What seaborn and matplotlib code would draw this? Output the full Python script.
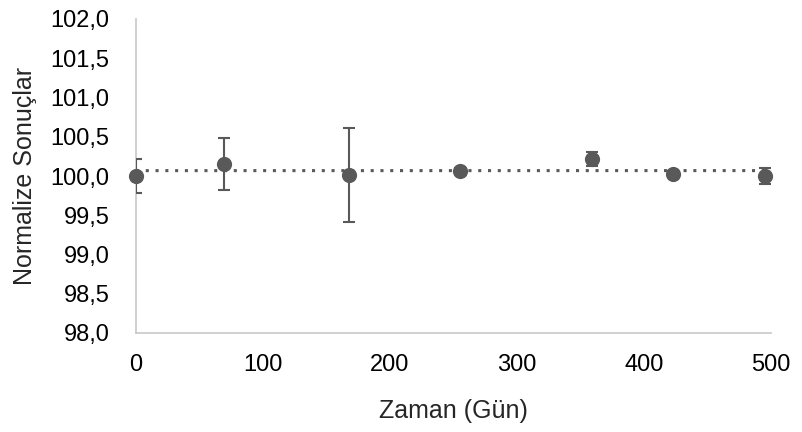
import numpy as np
import matplotlib
matplotlib.use("Agg")
import matplotlib.pyplot as plt
import seaborn as sns

# Data
days = [0, 69, 168, 255, 359, 423, 495]
values = [100.00, 100.15, 100.01, 100.07, 100.22, 100.03, 100.00]
errors = [0.22, 0.33, 0.60, 0.03, 0.09, 0.03, 0.10]
y_ticks = [98.0, 98.5, 99.0, 99.5, 100.0, 100.5, 101.0, 101.5, 102.0]
x_ticks = [0, 100, 200, 300, 400, 500]

sns.set_style("white")
plt.rcParams["font.family"] = ["Liberation Sans", "DejaVu Sans"]

grey = "#595959"
axis_grey = "#c8c8c8"

fig = plt.figure(figsize=(8.03, 4.32), dpi=100)
ax = fig.add_axes([136 / 803, 1 - 333 / 432, 635 / 803, 314 / 432])
ax.set_xlim(0, 500)
ax.set_ylim(98.0, 102.0)

# linear trend line (dotted), spanning the full x range
sns.regplot(x=days, y=values, ax=ax, scatter=False, ci=None, truncate=False,
            line_kws=dict(color=grey, linestyle=(0, (1, 2.2)), linewidth=2.2))

# error bars
ax.errorbar(days, values, yerr=errors, fmt="none", ecolor=grey,
            elinewidth=1.5, capsize=4.5, capthick=1.5, zorder=3)

# points
sns.scatterplot(x=days, y=values, ax=ax, color=grey, s=120, edgecolor=grey,
                linewidth=0, zorder=4, clip_on=False)

ax.set_xlim(0, 500)
ax.set_ylim(98.0, 102.0)
ax.set_xticks(x_ticks)
ax.set_yticks(y_ticks)
ax.set_yticklabels([f"{v:.1f}".replace(".", ",") for v in y_ticks])
ax.tick_params(axis="both", length=0, labelsize=17, colors="#000000")
ax.tick_params(axis="y", pad=19)
ax.tick_params(axis="x", pad=15)

for side in ["top", "right"]:
    ax.spines[side].set_visible(False)
for side in ["left", "bottom"]:
    ax.spines[side].set_color(axis_grey)
    ax.spines[side].set_linewidth(1.2)

ax.set_xlabel("Zaman (Gün)", fontsize=18, labelpad=17)
ax.set_ylabel("Normalize Sonuçlar", fontsize=18, labelpad=10)

fig.savefig("out.png", dpi=100)
